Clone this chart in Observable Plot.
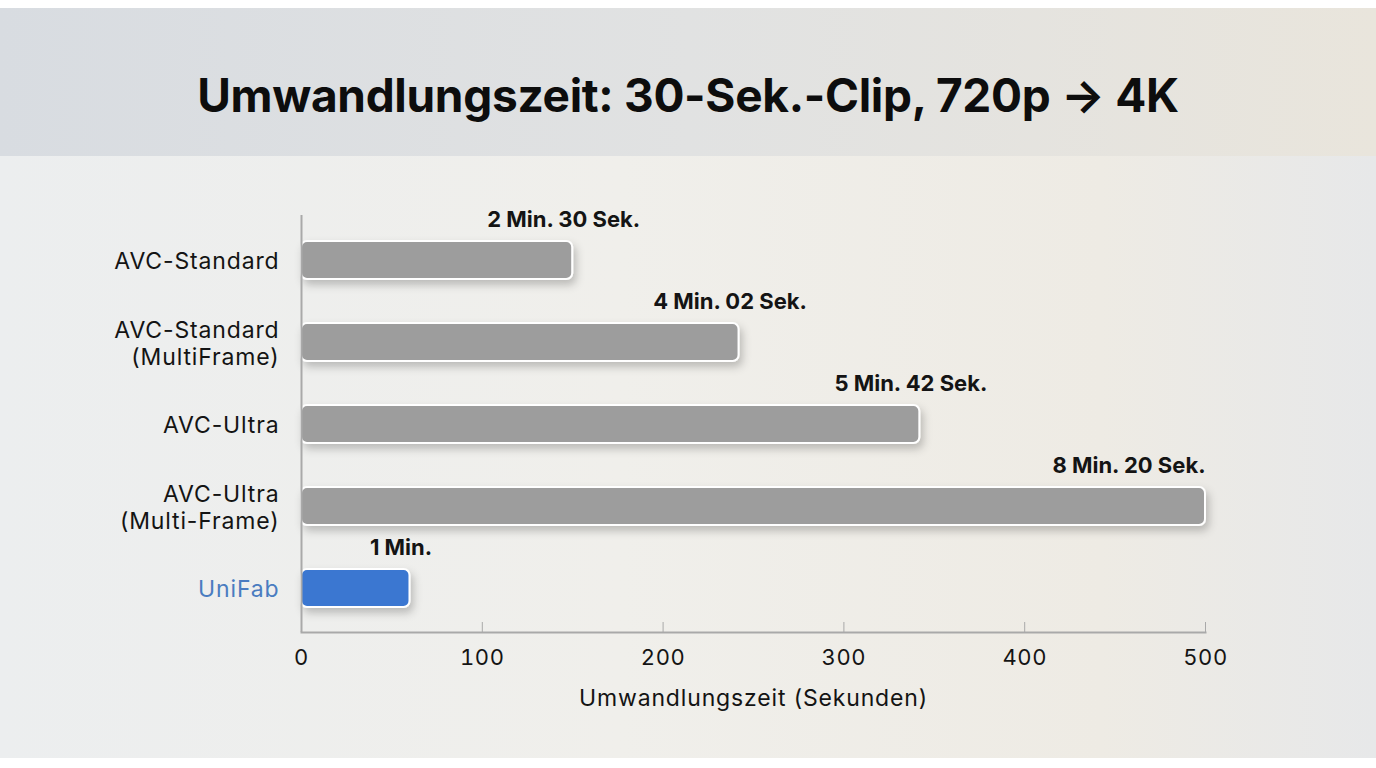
<!DOCTYPE html>
<html><head><meta charset="utf-8">
<script src="https://cdn.jsdelivr.net/npm/d3@7"></script>
<script src="https://cdn.jsdelivr.net/npm/@observablehq/plot@0.6"></script>
<style>
html,body{margin:0;padding:0;background:#fff;}
body{width:1376px;height:768px;overflow:hidden;font-family:Inter,"Open Sans",sans-serif;}
#panel{position:absolute;left:0;top:8px;width:1376px;height:750px;}
#header{position:relative;height:148px;background:linear-gradient(90deg,#d8dce1 0%,#e1e2e2 50%,#e9e5dc 100%);}
#header h1{position:absolute;left:0;right:0;top:64px;margin:0;text-align:center;font-size:46px;line-height:1;font-weight:700;color:#0d0d0d;letter-spacing:-0.3px;}
#chart{height:602px;background:linear-gradient(90deg,#eceeef 0%,#f0efeb 45%,#eeebe4 80%,#e7e8e9 100%);}
</style></head><body>
<div id="panel"><div id="header"><h1 id="title"></h1></div><div id="chart"></div></div>
<script>
const titleText = "Umwandlungszeit: 30-Sek.-Clip, 720p → 4K";
const categories = ["AVC-Standard", "AVC-Standard\n(MultiFrame)", "AVC-Ultra", "AVC-Ultra\n(Multi-Frame)", "UniFab"];
const seconds = [150, 242, 342, 500, 60];
const valueLabels = ["2 Min. 30 Sek.", "4 Min. 02 Sek.", "5 Min. 42 Sek.", "8 Min. 20 Sek.", "1 Min."];
const xTicks = [0, 100, 200, 300, 400, 500];
const highlight = "UniFab";
const axisTitle = "Umwandlungszeit (Sekunden)";

const gray = "#9d9d9d", blue = "#3a77d1", labelBlue = "#4a7cc0", axisGray = "#a9a9a9", ink = "#141414";
document.getElementById("title").textContent = titleText;

const data = categories.map((c, i) => ({category: c, seconds: seconds[i], label: valueLabels[i]}));
const maxVal = d3.max(seconds);

const chart = Plot.plot({
  width: 1376, height: 602,
  marginLeft: 301, marginRight: 171, marginTop: 59, marginBottom: 126,
  style: {background: "transparent", fontFamily: "Inter, 'Open Sans', sans-serif"},
  x: {domain: [0, 500], axis: null},
  y: {domain: categories, paddingInner: 0.54, paddingOuter: 0.31, axis: null},
  marks: [
    Plot.barX(data, {x: "seconds", y: "category", fill: d => d.category === highlight ? blue : gray,
      stroke: "white", strokeWidth: 2, rx: 6}),
    Plot.ruleX([0], {stroke: axisGray, strokeWidth: 2}),
    Plot.frame({anchor: "bottom", stroke: axisGray, strokeWidth: 2}),
    Plot.axisX(xTicks, {tickSize: -10, tickPadding: 27, fontSize: 22, stroke: axisGray, fill: ink, label: null, tickFormat: d => String(d)}),
    Plot.text([axisTitle], {frameAnchor: "bottom", dy: 73, fontSize: 23, fill: ink}),
    Plot.text(data, {x: 0, y: "category", text: "category", textAnchor: "end", dx: -22, fontSize: 23, lineHeight: 1.18,
      fill: d => d.category === highlight ? labelBlue : ink}),
    Plot.text(data.filter(d => d.seconds < maxVal), {x: "seconds", y: "category", text: "label", dx: -9, dy: -41,
      fontSize: 22, fontWeight: 700, fill: ink}),
    Plot.text(data.filter(d => d.seconds === maxVal), {x: "seconds", y: "category", text: "label", textAnchor: "end", dy: -41,
      fontSize: 22, fontWeight: 700, fill: ink})
  ]
});

const svg = d3.select(chart);
const defs = svg.insert("defs", ":first-child");
const f = defs.append("filter").attr("id", "barShadow").attr("x", "-10%").attr("y", "-40%").attr("width", "130%").attr("height", "200%");
f.append("feDropShadow").attr("dx", 3).attr("dy", 5).attr("stdDeviation", 4).attr("flood-color", "#000").attr("flood-opacity", 0.22);
svg.select("g[aria-label='bar']").attr("filter", "url(#barShadow)");
// widen the regular-weight labels a little (letter spacing)
const textGroups = svg.selectAll("g[aria-label='text']").nodes();
textGroups.slice(0, 2).forEach(g => d3.select(g).style("letter-spacing", "0.85px"));
svg.selectAll("g[aria-label='x-axis tick label']").style("letter-spacing", "0.6px");

document.getElementById("chart").appendChild(chart);
</script>
</body></html>
